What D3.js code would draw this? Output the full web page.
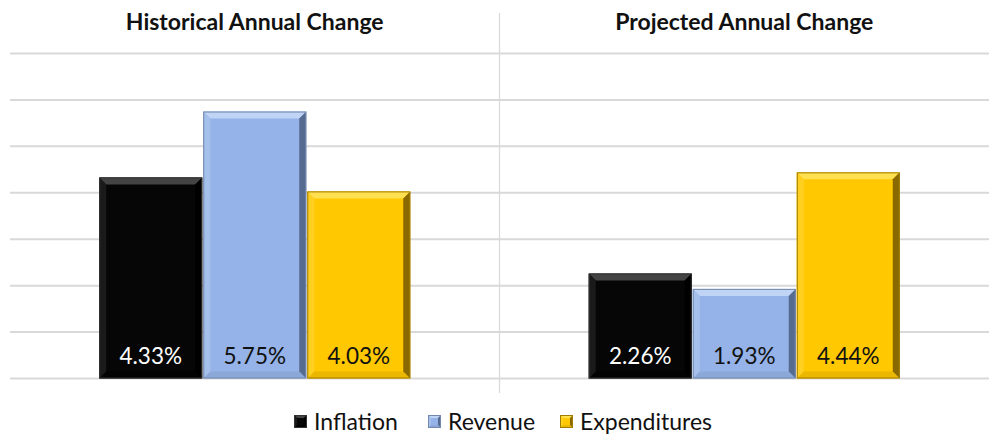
<!DOCTYPE html>
<html>
<head>
<meta charset="utf-8">
<script src="https://cdn.jsdelivr.net/npm/d3@7"></script>
<style>
  html, body { margin: 0; padding: 0; background: #fff; }
  svg { display: block; }
  text { font-family: Lato, "Open Sans", sans-serif; }
</style>
</head>
<body>
<svg id="chart" width="995" height="434"></svg>
<script>
// Annual change figures (percent)
const periods = ["Historical Annual Change", "Projected Annual Change"];
const seriesNames = ["Inflation", "Revenue", "Expenditures"];
const inflation = [4.33, 2.26];
const revenue = [5.75, 1.93];
const expenditures = [4.03, 4.44];
const yTicks = [0, 1, 2, 3, 4, 5, 6, 7];

const seriesValues = [inflation, revenue, expenditures];

// Face / bevel shades for each series
const palette = {
  Inflation:    { face: "#060606", top: "#444444", left: "#1a1a1a", right: "#000000", bottom: "#000000", edge: "#333333", text: "#ffffff" },
  Revenue:      { face: "#95b3e8", top: "#c0d4f5", left: "#a6c0ec", right: "#566b90", bottom: "#7f98c4", edge: "#7488ab", text: "#111111" },
  Expenditures: { face: "#ffc800", top: "#ffe050", left: "#ffd022", right: "#8a6a00", bottom: "#cc9e00", edge: "#a07c00", text: "#111111" }
};

const svg = d3.select("#chart");

const x0 = d3.scaleBand().domain(periods).range([10, 989]).padding(0);
const x1 = d3.scaleBand().domain(seriesNames).range([0, x0.bandwidth()])
  .paddingInner(0.01).paddingOuter(0.858);
const y = d3.scaleLinear().domain([0, 7]).range([378.5, 53.5]);

// Horizontal gridlines
svg.append("g").selectAll("line").data(yTicks).join("line")
  .attr("x1", 10).attr("x2", 989)
  .attr("y1", d => y(d)).attr("y2", d => y(d))
  .attr("stroke", "#d9d9d9").attr("stroke-width", 2);

// Divider between the two groups
const divX = x0(periods[1]);
svg.append("line")
  .attr("x1", divX).attr("x2", divX)
  .attr("y1", 13).attr("y2", 393)
  .attr("stroke", "#d9d9d9").attr("stroke-width", 1.2);

// Group titles
svg.append("g").selectAll("text").data(periods).join("text")
  .attr("x", d => x0(d) + x0.bandwidth() / 2)
  .attr("y", 30)
  .attr("text-anchor", "middle")
  .attr("font-size", 23)
  .attr("font-weight", 700)
  .attr("fill", "#111")
  .text(d => d);

// Beveled box drawn as a face plus four edge trapezoids
function bevelBox(g, bx, by, w, h, b, c) {
  b = Math.min(b, w / 2, h / 2);
  const pts = a => a.map(p => p.join(",")).join(" ");
  g.append("rect").attr("x", bx).attr("y", by).attr("width", w).attr("height", h).attr("fill", c.face);
  g.append("polygon").attr("points", pts([[bx, by], [bx + w, by], [bx + w - b, by + b], [bx + b, by + b]])).attr("fill", c.top);
  g.append("polygon").attr("points", pts([[bx, by], [bx + b, by + b], [bx + b, by + h - b], [bx, by + h]])).attr("fill", c.left);
  g.append("polygon").attr("points", pts([[bx + w, by], [bx + w, by + h], [bx + w - b, by + h - b], [bx + w - b, by + b]])).attr("fill", c.right);
  g.append("polygon").attr("points", pts([[bx, by + h], [bx + w, by + h], [bx + w - b, by + h - b], [bx + b, by + h - b]])).attr("fill", c.bottom).attr("opacity", 0.4);
  g.append("rect").attr("x", bx + 0.5).attr("y", by + 0.5).attr("width", w - 1).attr("height", h - 1)
    .attr("fill", "none").attr("stroke", c.edge).attr("stroke-width", 1);
}

// Bars
const bars = svg.append("g");
periods.forEach((p, pi) => {
  seriesNames.forEach((s, si) => {
    const v = seriesValues[si][pi];
    const bx = x0(p) + x1(s);
    const by = y(v);
    const g = bars.append("g");
    bevelBox(g, bx, by, x1.bandwidth(), y(0) - by, 7, palette[s]);
    g.append("text")
      .attr("x", bx + x1.bandwidth() / 2)
      .attr("y", 364)
      .attr("text-anchor", "middle")
      .attr("font-size", 22.5)
      .attr("fill", palette[s].text)
      .text(v.toFixed(2) + "%");
  });
});

// Legend
const legendX = [294, 428, 560];
const legend = svg.append("g");
seriesNames.forEach((s, i) => {
  const g = legend.append("g");
  bevelBox(g, legendX[i], 415, 13, 13, 3, palette[s]);
  g.append("text")
    .attr("x", legendX[i] + 20)
    .attr("y", 430)
    .attr("font-size", 23)
    .attr("fill", "#111")
    .text(s);
});
</script>
</body>
</html>
